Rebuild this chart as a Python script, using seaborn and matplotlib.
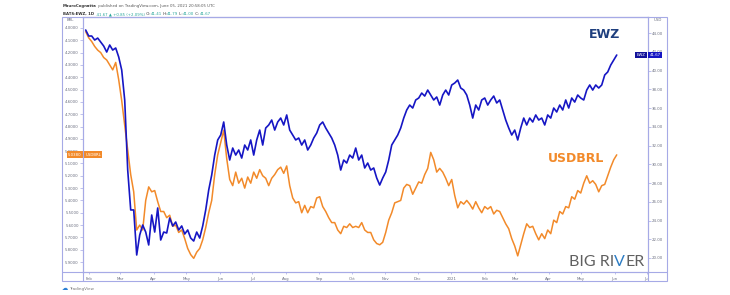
import numpy as np
import pandas as pd
import matplotlib
matplotlib.use("Agg")
import matplotlib.pyplot as plt
import matplotlib.dates as mdates
import seaborn as sns
from matplotlib.patches import Rectangle
from matplotlib.lines import Line2D
from matplotlib.transforms import blended_transform_factory

# ---------------- data ----------------
dates = pd.date_range("2020-01-29", "2021-06-03", periods=178)

ewz = [44.34, 43.70, 43.70, 43.27, 43.48, 43.06, 42.63, 41.99, 42.74, 42.20,
       42.42, 41.46, 40.07, 36.87, 29.39, 25.13, 25.13, 20.32, 22.45, 23.52,
       22.77, 21.39, 24.59, 22.77, 25.34, 21.92, 22.77, 22.67, 24.27, 23.42,
       23.84, 22.99, 23.42, 22.56, 22.99, 22.13, 21.81, 22.77, 22.13, 23.42,
       25.13, 27.26, 28.86, 30.99, 32.60, 33.13, 34.52, 32.06, 30.46, 31.74,
       30.99, 31.53, 30.67, 32.06, 31.53, 32.60, 30.99, 32.60, 33.66, 32.06,
       33.88, 34.20, 34.73, 33.66, 34.52, 34.94, 34.20, 35.27, 33.66, 33.13,
       32.60, 32.81, 32.06, 32.60, 31.53, 32.06, 32.81, 33.34, 34.20, 34.52,
       33.88, 33.34, 32.81, 32.06, 30.99, 29.39, 30.46, 30.14, 30.99, 30.67,
       31.74, 30.46, 30.99, 29.61, 30.14, 29.39, 29.61, 28.54, 27.79, 28.54,
       29.18, 30.46, 32.06, 32.60, 33.13, 33.88, 34.94, 35.80, 36.33, 36.01,
       36.87, 37.08, 37.61, 37.29, 37.93, 37.40, 36.87, 37.19, 36.33, 37.40,
       37.93, 37.40, 38.47, 38.68, 39.00, 38.15, 37.93, 37.40, 36.33, 34.94,
       36.33, 35.80, 36.87, 37.08, 36.33, 36.87, 37.29, 36.55, 36.87, 35.80,
       34.73, 33.88, 33.13, 33.66, 32.60, 33.88, 34.94, 34.20, 34.94, 34.52,
       35.27, 34.73, 34.94, 34.20, 35.27, 34.94, 36.01, 35.59, 36.33, 35.80,
       36.87, 36.01, 37.08, 36.65, 37.40, 37.08, 36.87, 37.93, 38.47, 37.93,
       38.47, 38.15, 38.47, 39.54, 39.86, 40.60, 41.14, 41.67]

usdbrl = [4.03, 4.08, 4.11, 4.15, 4.18, 4.20, 4.24, 4.26, 4.30, 4.34,
          4.28, 4.42, 4.59, 4.79, 4.99, 5.19, 5.33, 5.64, 5.60, 5.64,
          5.40, 5.29, 5.33, 5.32, 5.41, 5.49, 5.49, 5.54, 5.52, 5.61,
          5.60, 5.66, 5.64, 5.71, 5.79, 5.84, 5.87, 5.82, 5.79, 5.72,
          5.62, 5.50, 5.40, 5.19, 5.03, 4.93, 4.83, 5.06, 5.23, 5.28,
          5.17, 5.26, 5.22, 5.30, 5.21, 5.26, 5.17, 5.22, 5.15, 5.20,
          5.22, 5.28, 5.22, 5.19, 5.15, 5.13, 5.18, 5.12, 5.28, 5.38,
          5.42, 5.41, 5.50, 5.44, 5.50, 5.45, 5.46, 5.38, 5.37, 5.45,
          5.49, 5.54, 5.58, 5.58, 5.64, 5.67, 5.61, 5.62, 5.59, 5.62,
          5.61, 5.62, 5.58, 5.64, 5.66, 5.66, 5.72, 5.75, 5.76, 5.74,
          5.66, 5.56, 5.50, 5.42, 5.41, 5.40, 5.30, 5.27, 5.28, 5.35,
          5.30, 5.25, 5.26, 5.19, 5.14, 5.01, 5.07, 5.17, 5.14, 5.17,
          5.22, 5.28, 5.23, 5.36, 5.46, 5.41, 5.43, 5.40, 5.43, 5.47,
          5.41, 5.46, 5.50, 5.45, 5.47, 5.45, 5.51, 5.48, 5.49, 5.54,
          5.59, 5.63, 5.71, 5.77, 5.85, 5.76, 5.67, 5.59, 5.62, 5.61,
          5.67, 5.72, 5.67, 5.71, 5.64, 5.67, 5.56, 5.58, 5.49, 5.51,
          5.45, 5.46, 5.37, 5.39, 5.32, 5.34, 5.26, 5.20, 5.26, 5.24,
          5.27, 5.33, 5.28, 5.27, 5.20, 5.13, 5.07, 5.03]

brl_ticks = [4.0, 4.1, 4.2, 4.3, 4.4, 4.5, 4.6, 4.7, 4.8, 4.9,
             5.0, 5.1, 5.2, 5.3, 5.4, 5.5, 5.6, 5.7, 5.8, 5.9]
usd_ticks = [20, 22, 24, 26, 28, 30, 32, 34, 36, 38, 40, 42, 44]
brl_last_label = "5.0380"
ewz_last_label = "41.67"

# ---------------- style ----------------
sns.set_theme(style="white")
plt.rcParams['font.family'] = ['DejaVu Sans']

W, H = 730, 295
fig = plt.figure(figsize=(W / 100, H / 100), dpi=100)
fig.patch.set_facecolor("white")

def fx(px):
    return px / W

def fy(py):
    return (H - py) / H

BLUE = "#1616c4"
ORANGE = "#f28a2a"
FRAME = "#a6aae6"
TXT = "#6b6f80"

ax = fig.add_axes([fx(83), fy(272), fx(648) - fx(83), fy(17) - fy(272)])
ax2 = ax.twinx()

df_b = pd.DataFrame({"date": dates, "usdbrl": usdbrl})
df_e = pd.DataFrame({"date": dates, "ewz": ewz})

sns.lineplot(data=df_b, x="date", y="usdbrl", ax=ax, color=ORANGE, lw=1.1)
sns.lineplot(data=df_e, x="date", y="ewz", ax=ax2, color=BLUE, lw=1.2)

ax.set_ylim(5.981, 3.911)
ax2.set_ylim(18.505, 45.73)
ax.set_xlim(pd.Timestamp("2020-01-26 12:00"), pd.Timestamp("2021-07-01 22:00"))

ax.set_xlabel("")
ax.set_ylabel("")
ax2.set_ylabel("")

ax.set_yticks(brl_ticks)
ax.set_yticklabels([f"{v:.4f}" for v in brl_ticks])
ax2.set_yticks(usd_ticks)
ax2.set_yticklabels([f"{v:.2f}" for v in usd_ticks])

ax.xaxis.set_major_locator(mdates.MonthLocator())
def mfmt(x, pos=None):
    d = mdates.num2date(x)
    return str(d.year) if d.month == 1 else d.strftime("%b")
ax.xaxis.set_major_formatter(plt.FuncFormatter(mfmt))

for a in (ax, ax2):
    for s in a.spines.values():
        s.set_color(FRAME)
        s.set_linewidth(0.8)
ax.tick_params(axis="y", labelsize=2.8, colors=FRAME, labelcolor=TXT,
               length=2, width=0.5, pad=1, left=True)
ax2.tick_params(axis="y", labelsize=2.8, colors=FRAME, labelcolor=TXT,
                length=2, width=0.5, pad=1, right=True)
ax.tick_params(axis="x", labelsize=2.8, colors=FRAME, labelcolor=TXT,
               length=1.5, width=0.5, pad=2, bottom=True)
ax.grid(False)
ax2.grid(False)

# outer frame and scale separators
fig.add_artist(Rectangle((fx(62), fy(281)), fx(667) - fx(62), fy(17) - fy(281),
                         transform=fig.transFigure, fill=False, ec=FRAME, lw=0.8))
for xx in (83, 648):
    fig.add_artist(Line2D([fx(xx), fx(xx)], [fy(281), fy(272)],
                          transform=fig.transFigure, color=FRAME, lw=0.8))
fig.add_artist(Line2D([fx(62), fx(83)], [fy(272), fy(272)],
                      transform=fig.transFigure, color=FRAME, lw=0.8))
fig.add_artist(Line2D([fx(648), fx(667)], [fy(272), fy(272)],
                      transform=fig.transFigure, color=FRAME, lw=0.8))

# currency labels at top of scales
fig.text(fx(70), fy(20), "BRL", fontsize=2.8, color=TXT, ha="center", va="center")
fig.text(fx(658), fy(20), "USD", fontsize=2.8, color=TXT, ha="center", va="center")

# last-value boxes
tb = blended_transform_factory(ax.transAxes, ax.transData)
ax.text(-0.002, usdbrl[-1], brl_last_label, transform=tb, ha="right", va="center",
        fontsize=2.8, color="white",
        bbox=dict(boxstyle="square,pad=0.35", fc=ORANGE, ec="none"), clip_on=False)
ax.text(0.004, usdbrl[-1], "USDBRL", transform=tb, ha="left", va="center",
        fontsize=2.8, color="white",
        bbox=dict(boxstyle="square,pad=0.35", fc=ORANGE, ec="none"), clip_on=False)
te = blended_transform_factory(ax2.transAxes, ax2.transData)
ax2.text(1.003, ewz[-1], ewz_last_label, transform=te, ha="left", va="center",
         fontsize=2.8, color="white",
         bbox=dict(boxstyle="square,pad=0.35", fc=BLUE, ec="none"), clip_on=False)
ax2.text(0.996, ewz[-1], "EWZ", transform=te, ha="right", va="center",
         fontsize=2.8, color="white",
         bbox=dict(boxstyle="square,pad=0.35", fc="#12129a", ec="none"), clip_on=False)

# big series labels
fig.text(fx(605), fy(35), "EWZ", fontsize=9, fontweight="bold", color="#1f3f7e",
         ha="center", va="center")
fig.text(fx(576), fy(158), "USDBRL", fontsize=9, fontweight="bold", color=ORANGE,
         ha="center", va="center")

fig.canvas.draw()
r = fig.canvas.get_renderer()

def chain(x0, y0, parts, **kw):
    x = x0
    for txt, opts in parts:
        o = dict(kw)
        o.update(opts)
        t = fig.text(x, y0, txt, va="baseline", **o)
        bb = t.get_window_extent(r)
        x = bb.x1 / fig.bbox.width
    return x

# header lines
chain(fx(63), fy(7), [("MauroCognatta", dict(fontweight="bold", color="#333333")),
                       (" published on TradingView.com, June 05, 2021 20:58:05 UTC",
                        dict(color="#555555"))], fontsize=2.8)
chain(fx(63), fy(15), [("BATS:EWZ, 1D", dict(fontweight="bold", color="#333333")),
                        ("  41.67 \u25b2 +0.85 (+2.09%)", dict(color="#26a69a")),
                        (" O:", dict(color="#333333")), ("41.41", dict(color="#26a69a")),
                        (" H:", dict(color="#333333")), ("41.79", dict(color="#26a69a")),
                        (" L:", dict(color="#333333")), ("41.00", dict(color="#26a69a")),
                        (" C:", dict(color="#333333")), ("41.67", dict(color="#26a69a"))],
      fontsize=2.8)

# BIG RIVER logo
chain(fx(569), fy(266), [("BIG RI", dict(color="#606060")),
                          ("V", dict(color="#2c7cc4")),
                          ("ER", dict(color="#606060"))],
      fontsize=11.5, family=["Lato", "DejaVu Sans"])

# TradingView watermark
fig.text(fx(62), fy(289), "\u2601", fontsize=4.5, color="#2a7fd4", va="center")
fig.text(fx(69), fy(289), "TradingView", fontsize=3, color="#7a7a7a", va="center")

fig.savefig("out.png", dpi=100, facecolor="white")
